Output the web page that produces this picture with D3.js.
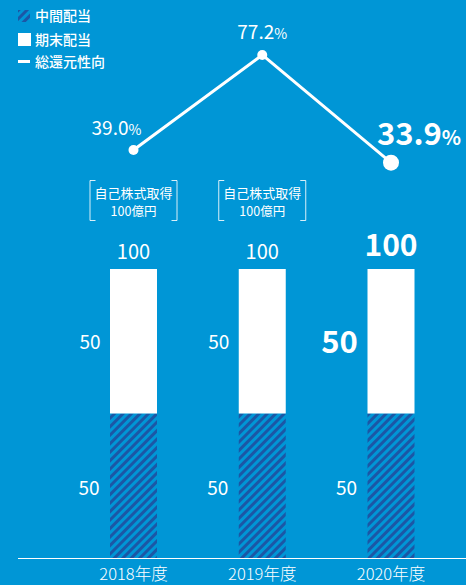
<!DOCTYPE html>
<html>
<head>
<meta charset="utf-8">
<script src="https://cdn.jsdelivr.net/npm/d3@7"></script>
<style>
  html, body { margin: 0; padding: 0; background: #0096d6; }
  svg { display: block; font-family: "Noto Sans CJK JP", "Noto Sans", sans-serif; }
</style>
</head>
<body>
<div id="chart"></div>
<script>
var years = ["2018年度", "2019年度", "2020年度"];
var interim = [50, 50, 50];
var yearEnd = [50, 50, 50];
var payout = [39.0, 77.2, 33.9];
var buyback = ["100億円", "100億円", null];
var legendLabels = ["中間配当", "期末配当", "総還元性向"];

var W = 466, H = 585;
var bg = "#0096d6";
var hatchColor = "#1b57a6";
var barW = 47;

var svg = d3.select("#chart").append("svg").attr("width", W).attr("height", H);

// hatch pattern for interim dividend
var defs = svg.append("defs");
var pat = defs.append("pattern")
  .attr("id", "hatch")
  .attr("patternUnits", "userSpaceOnUse")
  .attr("width", 6).attr("height", 6)
  .attr("patternTransform", "rotate(45)");
pat.append("rect").attr("width", 6).attr("height", 6).attr("fill", bg);
pat.append("rect").attr("x", 0).attr("width", 3).attr("height", 6).attr("fill", hatchColor);

var x = d3.scalePoint().domain(years).range([133.5, 391]);
var y = d3.scaleLinear().domain([0, 100]).range([558, 269]);
var yp = d3.scaleLinear().domain([0, 80]).range([247, 48]);

var last = years.length - 1;

// bars
var g = svg.selectAll("g.bar").data(years).enter().append("g").attr("class", "bar");
g.append("rect")
  .attr("x", function(d){ return x(d) - barW / 2; })
  .attr("y", function(d, i){ return y(interim[i]); })
  .attr("width", barW)
  .attr("height", function(d, i){ return y(0) - y(interim[i]); })
  .attr("fill", "url(#hatch)");
g.append("rect")
  .attr("x", function(d){ return x(d) - barW / 2; })
  .attr("y", function(d, i){ return y(interim[i] + yearEnd[i]); })
  .attr("width", barW)
  .attr("height", function(d, i){ return y(interim[i]) - y(interim[i] + yearEnd[i]); })
  .attr("fill", "#fff");

// total labels
g.append("text")
  .attr("x", function(d){ return x(d); })
  .attr("y", function(d, i){ return y(interim[i] + yearEnd[i]) - (i === last ? 13 : 10); })
  .attr("text-anchor", "middle")
  .attr("fill", "#fff")
  .attr("font-size", function(d, i){ return i === last ? 30 : 20; })
  .attr("font-weight", function(d, i){ return i === last ? 700 : 400; })
  .text(function(d, i){ return interim[i] + yearEnd[i]; });

// year-end labels
g.append("text")
  .attr("x", function(d, i){ return x(d) - barW / 2 - (i === last ? 28 : 20); })
  .attr("y", function(d, i){ return (y(interim[i]) + y(interim[i] + yearEnd[i])) / 2 + 1; })
  .attr("dy", "0.36em")
  .attr("text-anchor", "middle")
  .attr("fill", "#fff")
  .attr("font-size", function(d, i){ return i === last ? 31 : 19; })
  .attr("font-weight", function(d, i){ return i === last ? 700 : 400; })
  .text(function(d, i){ return yearEnd[i]; });

// interim labels
g.append("text")
  .attr("x", function(d){ return x(d) - barW / 2 - 21; })
  .attr("y", function(d, i){ return (y(0) + y(interim[i])) / 2 + 2; })
  .attr("dy", "0.36em")
  .attr("text-anchor", "middle")
  .attr("fill", "#fff")
  .attr("font-size", 19)
  .attr("font-weight", 400)
  .text(function(d, i){ return interim[i]; });

// baseline
svg.append("line")
  .attr("x1", 18).attr("x2", W)
  .attr("y1", y(0) + 0.5).attr("y2", y(0) + 0.5)
  .attr("stroke", "#fff").attr("stroke-width", 1);

// x labels
svg.selectAll("text.xl").data(years).enter().append("text")
  .attr("class", "xl")
  .attr("x", function(d){ return x(d); })
  .attr("y", 580)
  .attr("text-anchor", "middle")
  .attr("fill", "#fff")
  .attr("font-size", 16.5)
  .attr("font-weight", 300)
  .text(function(d){ return d; });

// buyback brackets
var bb = svg.selectAll("g.bb").data(years.filter(function(d, i){ return buyback[i]; }))
  .enter().append("g").attr("class", "bb")
  .attr("transform", function(d){ return "translate(" + x(d) + ",0)"; });
bb.append("path")
  .attr("d", "M-38,180.5H-43.5V220.5H-38 M38,180.5H43.5V220.5H38")
  .attr("fill", "none").attr("stroke", "#fff").attr("stroke-width", 1).attr("opacity", 0.85);
bb.append("text")
  .attr("y", 198).attr("text-anchor", "middle").attr("fill", "#fff")
  .attr("font-size", 13).text("自己株式取得");
bb.append("text")
  .attr("y", 216).attr("text-anchor", "middle").attr("fill", "#fff")
  .attr("font-size", 12.5).text(function(d){ return buyback[years.indexOf(d)]; });

// payout line
var line = d3.line()
  .x(function(d, i){ return x(years[i]); })
  .y(function(d){ return yp(d); });
svg.append("path")
  .datum(payout)
  .attr("d", line)
  .attr("fill", "none")
  .attr("stroke", "#fff")
  .attr("stroke-width", 3);
svg.selectAll("circle.pt").data(payout).enter().append("circle")
  .attr("class", "pt")
  .attr("cx", function(d, i){ return x(years[i]); })
  .attr("cy", function(d){ return yp(d); })
  .attr("r", function(d, i){ return i === last ? 8 : 5; })
  .attr("fill", "#fff");

// payout labels
var plabelPos = [
  { dx: -17, dy: -15 },
  { dx: 0, dy: -16 },
  { dx: 28, dy: -18 }
];
var pl = svg.selectAll("text.pl").data(payout).enter().append("text")
  .attr("class", "pl")
  .attr("x", function(d, i){ return x(years[i]) + plabelPos[i].dx; })
  .attr("y", function(d, i){ return yp(d) + plabelPos[i].dy; })
  .attr("text-anchor", "middle")
  .attr("fill", "#fff");
pl.append("tspan")
  .attr("font-size", function(d, i){ return i === last ? 31 : 19; })
  .attr("font-weight", function(d, i){ return i === last ? 700 : 400; })
  .text(function(d){ return d.toFixed(1); });
pl.append("tspan")
  .attr("font-size", function(d, i){ return i === last ? 20 : 14; })
  .attr("font-weight", function(d, i){ return i === last ? 700 : 400; })
  .text("%");

// legend
var lg = svg.append("g").attr("transform", "translate(18,0)");
lg.append("rect").attr("x", 0).attr("y", 10).attr("width", 12).attr("height", 12).attr("fill", "url(#hatch)");
lg.append("rect").attr("x", 0).attr("y", 33).attr("width", 13).attr("height", 13).attr("fill", "#fff");
lg.append("rect").attr("x", 0).attr("y", 60).attr("width", 12).attr("height", 3).attr("fill", "#fff");
lg.selectAll("text").data(legendLabels).enter().append("text")
  .attr("x", 17)
  .attr("y", function(d, i){ return [16, 39.5, 61.5][i]; })
  .attr("dy", "0.36em")
  .attr("fill", "#fff")
  .attr("font-size", 14)
  .attr("font-weight", 500)
  .text(function(d){ return d; });
</script>
</body>
</html>
